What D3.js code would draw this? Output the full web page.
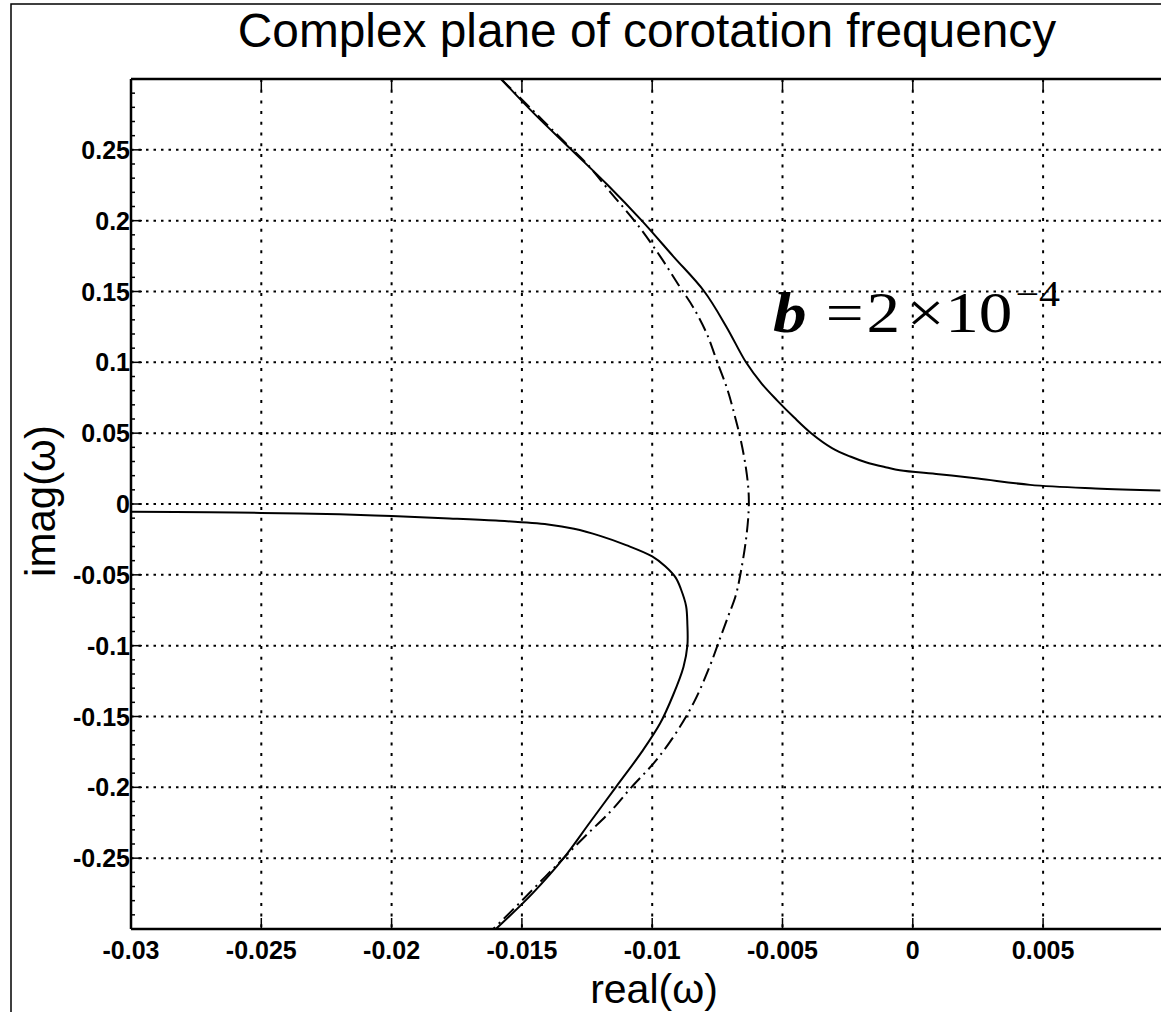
<!DOCTYPE html>
<html>
<head>
<meta charset="utf-8">
<script src="https://cdn.jsdelivr.net/npm/d3@7"></script>
<style>
  body { margin: 0; background: #fff; }
  svg { display: block; }
</style>
</head>
<body>
<div id="chart"></div>
<script>
// tick values
const xTicks = [-0.03, -0.025, -0.02, -0.015, -0.01, -0.005, 0, 0.005]
const yTicks = [0.25, 0.2, 0.15, 0.1, 0.05, 0, -0.05, -0.1, -0.15, -0.2, -0.25]

// upper solid branch
const upperRe = [-0.0158, -0.0145, -0.0131, -0.0117, -0.0104, -0.0092, -0.0080, -0.00715, -0.0064, -0.0058,
    -0.0052, -0.00455, -0.0039, -0.0031, -0.0024, -0.0018, -0.0010, -0.0005, 0.0010, 0.0025, 0.0045, 0.0070, 0.0095]
const upperIm = [0.30, 0.275, 0.25, 0.225, 0.20, 0.175, 0.15, 0.125, 0.10, 0.085,
    0.073, 0.061, 0.050, 0.0395, 0.0335, 0.0295, 0.0258, 0.0238, 0.021, 0.018, 0.0135, 0.011, 0.0095]

// lower solid branch
const lowerRe = [-0.0300, -0.027, -0.025, -0.022, -0.020, -0.018, -0.016, -0.014, -0.013, -0.012,
    -0.011, -0.0100, -0.0095, -0.0091, -0.0089, -0.0087, -0.00865, -0.00865, -0.0088, -0.0092,
    -0.0097, -0.0104, -0.0114, -0.0124, -0.0134, -0.0146, -0.0160]
const lowerIm = [-0.0054, -0.0058, -0.0063, -0.0073, -0.0085, -0.0100, -0.0117, -0.0145, -0.0175, -0.0225,
    -0.029, -0.037, -0.044, -0.052, -0.060, -0.072, -0.085, -0.100, -0.115, -0.135,
    -0.155, -0.175, -0.2, -0.225, -0.25, -0.275, -0.30]

// dash-dot arc
const arcRe = [-0.0158, -0.0147, -0.0135, -0.0125, -0.0116, -0.0106, -0.0097, -0.0090, -0.0084, -0.0079,
    -0.0075, -0.0071, -0.0068, -0.0066, -0.0064, -0.0063, -0.0063, -0.0064, -0.0066, -0.0068,
    -0.0071, -0.0074, -0.0078, -0.0084, -0.0091, -0.0099, -0.0108, -0.0116, -0.0126, -0.0134,
    -0.0141, -0.0150, -0.0161]
const arcIm = [0.30, 0.28, 0.258, 0.24, 0.22, 0.198, 0.175, 0.155, 0.138, 0.12,
    0.10, 0.08, 0.06, 0.045, 0.025, 0.008, -0.005, -0.025, -0.048, -0.065,
    -0.08, -0.095, -0.115, -0.14, -0.162, -0.182, -0.2, -0.217, -0.235, -0.25,
    -0.263, -0.28, -0.30]

const W = 1161, H = 1012
const plotLeft = 131, plotTop = 79, plotBottom = 929

const x = d3.scaleLinear().domain([-0.03, 0.01]).range([plotLeft, plotLeft + 0.04 * 130.3 / 0.005])
const y = d3.scaleLinear().domain([-0.3, 0.3]).range([plotBottom, plotTop])

const svg = d3.select('#chart').append('svg')
    .attr('width', W).attr('height', H)

// outer frame
svg.append('rect')
    .attr('x', 11).attr('y', 4)
    .attr('width', 2000).attr('height', 2000)
    .attr('fill', 'none').attr('stroke', '#000').attr('stroke-width', 1.5)

svg.append('defs').append('clipPath').attr('id', 'clip')
    .append('rect')
    .attr('x', x(-0.03)).attr('y', plotTop)
    .attr('width', x(0.01) - x(-0.03)).attr('height', plotBottom - plotTop)

// grid
svg.append('g').selectAll('line')
    .data(xTicks.slice(1))
    .enter().append('line')
    .attr('x1', d => x(d)).attr('x2', d => x(d))
    .attr('y1', plotTop).attr('y2', plotBottom)
    .attr('stroke', '#000').attr('stroke-width', 2)
    .attr('stroke-dasharray', '3,7.7')

svg.append('g').selectAll('line')
    .data(yTicks)
    .enter().append('line')
    .attr('x1', plotLeft).attr('x2', W)
    .attr('y1', d => y(d)).attr('y2', d => y(d))
    .attr('stroke', '#000').attr('stroke-width', 2)
    .attr('stroke-dasharray', '2.5,5')

// major ticks
const tickLen = 11
svg.append('g').selectAll('line')
    .data(xTicks.slice(1))
    .enter().append('line')
    .attr('x1', d => x(d)).attr('x2', d => x(d))
    .attr('y1', plotBottom).attr('y2', plotBottom - tickLen)
    .attr('stroke', '#000').attr('stroke-width', 1.5)
svg.append('g').selectAll('line')
    .data(xTicks.slice(1))
    .enter().append('line')
    .attr('x1', d => x(d)).attr('x2', d => x(d))
    .attr('y1', plotTop).attr('y2', plotTop + tickLen)
    .attr('stroke', '#000').attr('stroke-width', 1.5)
svg.append('g').selectAll('line')
    .data(yTicks)
    .enter().append('line')
    .attr('x1', plotLeft).attr('x2', plotLeft + tickLen)
    .attr('y1', d => y(d)).attr('y2', d => y(d))
    .attr('stroke', '#000').attr('stroke-width', 1.5)

// minor ticks on y
const minorY = d3.range(-29, 30).map(i => i / 100).filter(v => Math.round(v * 100) % 5 !== 0)
svg.append('g').selectAll('line')
    .data(minorY)
    .enter().append('line')
    .attr('x1', plotLeft).attr('x2', plotLeft + 4)
    .attr('y1', d => y(d)).attr('y2', d => y(d))
    .attr('stroke', '#000').attr('stroke-width', 1.5)

// curves
const plot = svg.append('g').attr('clip-path', 'url(#clip)')
const line = d3.line()
    .x(d => x(d[0])).y(d => y(d[1]))
    .curve(d3.curveCatmullRom.alpha(0.5))

plot.append('path')
    .datum(arcRe.map((v, i) => [v, arcIm[i]]))
    .attr('d', line)
    .attr('fill', 'none').attr('stroke', '#000').attr('stroke-width', 2)
    .attr('stroke-dasharray', '14,5,2,5')

plot.append('path')
    .datum(upperRe.map((v, i) => [v, upperIm[i]]))
    .attr('d', line)
    .attr('fill', 'none').attr('stroke', '#000').attr('stroke-width', 2)

plot.append('path')
    .datum(lowerRe.map((v, i) => [v, lowerIm[i]]))
    .attr('d', line)
    .attr('fill', 'none').attr('stroke', '#000').attr('stroke-width', 2)

// axes box
svg.append('line').attr('x1', plotLeft).attr('x2', W).attr('y1', plotTop).attr('y2', plotTop)
    .attr('stroke', '#000').attr('stroke-width', 2.5)
svg.append('line').attr('x1', plotLeft).attr('x2', W).attr('y1', plotBottom).attr('y2', plotBottom)
    .attr('stroke', '#000').attr('stroke-width', 2.5)
svg.append('line').attr('x1', plotLeft).attr('x2', plotLeft).attr('y1', plotTop).attr('y2', plotBottom)
    .attr('stroke', '#000').attr('stroke-width', 2.5)

// tick labels
const fmt = d => String(d)
svg.append('g').selectAll('text')
    .data(xTicks)
    .enter().append('text')
    .attr('x', d => x(d)).attr('y', 959)
    .attr('text-anchor', 'middle')
    .style('font-family', '"Liberation Sans", Arial, sans-serif')
    .style('font-weight', 'bold').style('font-size', '25px')
    .text(fmt)

svg.append('g').selectAll('text')
    .data(yTicks)
    .enter().append('text')
    .attr('x', plotLeft - 1).attr('y', d => y(d))
    .attr('dy', '0.36em')
    .attr('text-anchor', 'end')
    .style('font-family', '"Liberation Sans", Arial, sans-serif')
    .style('font-weight', 'bold').style('font-size', '25px')
    .text(fmt)

// titles
svg.append('text')
    .attr('x', 647).attr('y', 47)
    .attr('text-anchor', 'middle')
    .style('font-family', '"Liberation Sans", Arial, sans-serif')
    .style('font-size', '47.8px')
    .text('Complex plane of corotation frequency')

svg.append('text')
    .attr('x', 654).attr('y', 1003)
    .attr('text-anchor', 'middle')
    .style('font-family', '"Liberation Sans", Arial, sans-serif')
    .style('font-size', '41px')
    .text('real(ω)')

svg.append('text')
    .attr('transform', 'translate(55,501) rotate(-90)')
    .attr('text-anchor', 'middle')
    .style('font-family', '"Liberation Sans", Arial, sans-serif')
    .style('font-size', '42px')
    .text('imag(ω)')

// annotation b = 2x10^-4, one text element stretched sideways like the original
const note = svg.append('text')
    .attr('transform', 'translate(773,332) scale(1.2,1)')
    .style('font-family', '"Liberation Serif", "Times New Roman", serif')
    .style('font-size', '56px')
note.append('tspan').attr('x', 0)
    .style('font-weight', 'bold').style('font-style', 'italic').text('b')
note.append('tspan').attr('x', 44).text('=')
note.append('tspan').attr('x', 78).text('2')
note.append('tspan').attr('x', 111.5).text('×')
note.append('tspan').attr('x', 143.5).text('10')
note.append('tspan').attr('x', 202).attr('y', -26).style('font-size', '35px').text('−4')
</script>
</body>
</html>
